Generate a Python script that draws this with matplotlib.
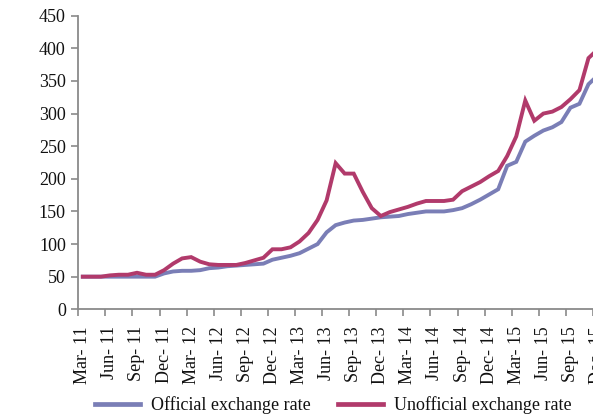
import matplotlib
matplotlib.use("Agg")
import matplotlib.pyplot as plt
import numpy as np

# Categories: monthly, Mar-2011 .. Dec-2015
months = ['Mar-11', 'Apr-11', 'May-11', 'Jun-11', 'Jul-11', 'Aug-11', 'Sep-11', 'Oct-11', 'Nov-11',
          'Dec-11', 'Jan-12', 'Feb-12', 'Mar-12', 'Apr-12', 'May-12', 'Jun-12', 'Jul-12', 'Aug-12',
          'Sep-12', 'Oct-12', 'Nov-12', 'Dec-12', 'Jan-13', 'Feb-13', 'Mar-13', 'Apr-13', 'May-13',
          'Jun-13', 'Jul-13', 'Aug-13', 'Sep-13', 'Oct-13', 'Nov-13', 'Dec-13', 'Jan-14', 'Feb-14',
          'Mar-14', 'Apr-14', 'May-14', 'Jun-14', 'Jul-14', 'Aug-14', 'Sep-14', 'Oct-14', 'Nov-14',
          'Dec-14', 'Jan-15', 'Feb-15', 'Mar-15', 'Apr-15', 'May-15', 'Jun-15', 'Jul-15', 'Aug-15',
          'Sep-15', 'Oct-15', 'Nov-15', 'Dec-15']

official = [50, 50, 50, 50, 50, 50, 50, 50, 50, 55, 58, 59, 59, 60, 63, 64, 66, 67, 68, 69,
            70, 76, 79, 82, 86, 93, 100, 118, 129, 133, 136, 137, 139, 141, 142, 143, 146, 148,
            150, 150, 150, 152, 155, 161, 168, 176, 184, 220, 226, 257, 266, 274, 279, 287, 309,
            315, 345, 358]

unofficial = [50, 50, 50, 52, 53, 53, 56, 53, 53, 60, 70, 78, 80, 73, 69, 68, 68, 68, 71, 75,
              79, 92, 92, 95, 104, 117, 137, 167, 224, 208, 208, 180, 155, 143, 149, 153, 157, 162,
              166, 166, 166, 168, 181, 188, 195, 204, 212, 235, 265, 320, 289, 300, 303, 310, 322,
              336, 385, 398]

tick_labels = ['Mar- 11', 'Jun- 11', 'Sep- 11', 'Dec- 11', 'Mar- 12', 'Jun- 12', 'Sep- 12',
               'Dec- 12', 'Mar- 13', 'Jun- 13', 'Sep- 13', 'Dec- 13', 'Mar- 14', 'Jun- 14',
               'Sep- 14', 'Dec- 14', 'Mar- 15', 'Jun- 15', 'Sep- 15', 'Dec- 15']

series_names = ['Official exchange rate', 'Unofficial exchange rate']
y_ticks = [0, 50, 100, 150, 200, 250, 300, 350, 400, 450]

plt.rcParams['font.family'] = ['Liberation Serif', 'DejaVu Serif']

W, H = 593, 415
fig = plt.figure(figsize=(W / 100, H / 100), dpi=100)
left_px, axis_y_px, top_px = 78.3, 309.3, 15.7
px_per_month = 9.03
x_min, x_max = -0.5, 60.5
ax = fig.add_axes([left_px / W, 1 - axis_y_px / H,
                   (x_max - x_min) * px_per_month / W, (axis_y_px - top_px) / H])

x = np.arange(len(months))
c_off = '#7a7eb6'
c_unoff = '#b13a6b'
ax.plot(x, official, color=c_off, lw=2.8, solid_joinstyle='miter', label=series_names[0])
ax.plot(x, unofficial, color=c_unoff, lw=2.8, solid_joinstyle='miter', label=series_names[1])

ax.set_xlim(x_min, x_max)
ax.set_ylim(0, 450)
ax.set_yticks(y_ticks)
ax.set_yticklabels([str(v) for v in y_ticks])

label_pos = np.arange(0, len(months), 3)
ax.set_xticks(label_pos)
ax.set_xticklabels(tick_labels[:len(label_pos)], rotation=90)
ax.set_xticks(np.arange(-0.5, x_max, 3), minor=True)
ax.tick_params(axis='x', which='major', length=0, pad=12, labelsize=13, colors='#111111')
ax.tick_params(axis='x', which='minor', length=5, width=1.2, color='#8a8a8a', direction='out')
ax.tick_params(axis='y', length=5, width=1.2, color='#8a8a8a', direction='out', pad=4,
               labelsize=13, labelcolor='#111111')

for s in ['top', 'right']:
    ax.spines[s].set_visible(False)
for s in ['left', 'bottom']:
    ax.spines[s].set_color('#8a8a8a')
    ax.spines[s].set_linewidth(1.3)

h1 = plt.Line2D([], [], color=c_off, lw=3.4)
h2 = plt.Line2D([], [], color=c_unoff, lw=3.4)
fig.legend([h1, h2], series_names, loc='center', bbox_to_anchor=(333 / W, 1 - 405 / H),
           ncol=2, frameon=False, fontsize=13, handlelength=2.5, handletextpad=0.6,
           columnspacing=1.5, borderaxespad=0, borderpad=0, labelcolor='#111111')

fig.savefig('out.png', dpi=100)
